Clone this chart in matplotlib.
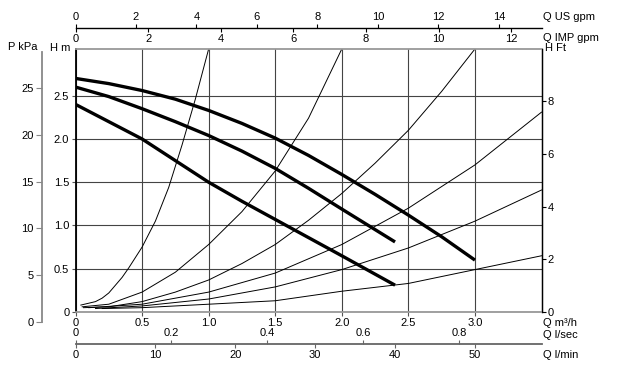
import matplotlib
matplotlib.use("Agg")
import matplotlib.pyplot as plt

plt.rcParams['font.family'] = ['Liberation Sans', 'DejaVu Sans']
plt.rcParams['font.size'] = 8

# pump curves, Q in m3/h, H in m
q_high = [0, 0.25, 0.5, 0.75, 1.0, 1.25, 1.5, 1.75, 2.0, 2.25, 2.5, 2.75, 3.0]
h_high = [2.70, 2.64, 2.56, 2.46, 2.33, 2.18, 2.01, 1.81, 1.59, 1.36, 1.12, 0.87, 0.60]
q_mid = [0, 0.25, 0.5, 0.75, 1.0, 1.25, 1.5, 1.75, 2.0, 2.2, 2.4]
h_mid = [2.60, 2.49, 2.35, 2.20, 2.04, 1.86, 1.66, 1.43, 1.19, 1.00, 0.81]
q_low = [0, 0.25, 0.5, 0.75, 1.0, 1.25, 1.5, 1.75, 2.0, 2.2, 2.4]
h_low = [2.40, 2.20, 2.00, 1.75, 1.50, 1.28, 1.07, 0.86, 0.65, 0.48, 0.31]

# system curves
sys_q = [
    [0.04, 0.15, 0.2, 0.25, 0.3, 0.35, 0.4, 0.5, 0.6, 0.7, 0.8, 0.9, 1.0],
    [0.05, 0.25, 0.5, 0.75, 1.0, 1.25, 1.5, 1.75, 2.0],
    [0.06, 0.25, 0.5, 0.75, 1.0, 1.25, 1.5, 1.75, 2.0, 2.25, 2.5, 2.75, 3.0],
    [0.1, 0.5, 1.0, 1.5, 2.0, 2.5, 3.0, 3.5],
    [0.15, 0.5, 1.0, 1.5, 2.0, 2.5, 3.0, 3.5],
    [0.2, 0.5, 1.0, 1.5, 2.0, 2.5, 3.0, 3.5],
]
sys_h = [
    [0.08, 0.12, 0.16, 0.22, 0.31, 0.40, 0.51, 0.75, 1.05, 1.44, 1.93, 2.46, 3.04],
    [0.06, 0.09, 0.23, 0.46, 0.78, 1.16, 1.63, 2.24, 3.04],
    [0.05, 0.06, 0.12, 0.23, 0.37, 0.56, 0.78, 1.06, 1.37, 1.72, 2.10, 2.55, 3.04],
    [0.05, 0.09, 0.23, 0.45, 0.78, 1.20, 1.70, 2.31],
    [0.04, 0.07, 0.15, 0.29, 0.49, 0.74, 1.05, 1.41],
    [0.04, 0.05, 0.09, 0.13, 0.24, 0.33, 0.49, 0.65],
]

q_ticks = [0, 0.5, 1.0, 1.5, 2.0, 2.5, 3.0]
q_labels = ['0', '0.5', '1.0', '1.5', '2.0', '2.5', '3.0']
hm_ticks = [0, 0.5, 1.0, 1.5, 2.0, 2.5]
hm_labels = ['0', '0.5', '1.0', '1.5', '2.0', '2.5']
ft_ticks = [0, 2, 4, 6, 8]
kpa_ticks = [0, 5, 10, 15, 20, 25]
us_ticks = [0, 2, 4, 6, 8, 10, 12, 14]
imp_ticks = [0, 2, 4, 6, 8, 10, 12]
ls_ticks = [0, 0.2, 0.4, 0.6, 0.8]
ls_labels = ['0', '0.2', '0.4', '0.6', '0.8']
lmin_ticks = [0, 10, 20, 30, 40, 50]

QMAX, HMAX = 3.5, 3.04
W, H = 630, 368


def rect(x0, y0, x1, y1):
    return [x0 / W, 1 - y1 / H, (x1 - x0) / W, (y1 - y0) / H]


def hide(a, sides):
    for s in sides:
        a.spines[s].set_visible(False)


fig = plt.figure(figsize=(6.3, 3.68), dpi=100)
grid_c = '#444444'

ax = fig.add_axes(rect(75.5, 49, 541.5, 312))
ax.set_xlim(0, QMAX)
ax.set_ylim(0, HMAX)
ax.set_xticks(q_ticks)
ax.set_xticklabels(q_labels)
ax.set_yticks(hm_ticks)
ax.set_yticklabels(hm_labels)
ax.grid(True, color=grid_c, lw=0.8)
ax.tick_params(length=3, width=0.8, pad=1.5, color='#555555')
ax.spines['left'].set_linewidth(1.3)
ax.spines['right'].set_linewidth(1.0)
for s in ['top', 'bottom']:
    ax.spines[s].set_color('#999999')
    ax.spines[s].set_linewidth(1.3)

for qs, hs in zip(sys_q, sys_h):
    ax.plot(qs, hs, color='black', lw=0.7)
for qs, hs in [(q_high, h_high), (q_mid, h_mid), (q_low, h_low)]:
    ax.plot(qs, hs, color='black', lw=2.4, solid_capstyle='butt',
            solid_joinstyle='round')

# right axis in feet
axr = ax.twinx()
axr.set_ylim(0, HMAX / 0.3048)
axr.set_yticks(ft_ticks)
axr.tick_params(length=3, width=0.8, pad=1.5)
hide(axr, ['top', 'bottom', 'left'])

# pressure axis on the far left
axp = fig.add_axes(rect(42, 52, 43, 321.7))
axp.set_ylim(0, 28.9)
axp.set_yticks(kpa_ticks)
axp.set_xticks([])
axp.patch.set_visible(False)
hide(axp, ['top', 'bottom', 'right'])
axp.spines['left'].set_color('#888888')
axp.spines['left'].set_linewidth(1.3)
axp.tick_params(axis='y', length=4, width=0.8, color='#888888', pad=2)

# top flow scales: US gpm above the line, IMP gpm below
axt = fig.add_axes(rect(75.5, 28, 541.5, 28.2))
axi = axt.twiny()
axt.set_xlim(0, QMAX / 0.22712)
axt.set_xticks(us_ticks)
axt.set_yticks([])
axt.patch.set_visible(False)
hide(axt, ['left', 'right', 'top'])
axt.spines['bottom'].set_linewidth(1.0)
axt.tick_params(axis='x', bottom=False, labelbottom=False, top=True, labeltop=True,
                length=3, width=0.8, pad=1)
axi.set_xlim(0, QMAX / 0.27277)
axi.set_xticks(imp_ticks)
hide(axi, ['left', 'right', 'top', 'bottom'])
axi.tick_params(axis='x', bottom=True, labelbottom=True, top=False, labeltop=False,
                length=3, width=0.8, pad=1)

# bottom flow scales: l/sec above the line, l/min below
axb = fig.add_axes(rect(75.5, 344, 541.5, 344.2))
axm = axb.twiny()
axb.set_xlim(0, QMAX / 3.6)
axb.set_xticks(ls_ticks)
axb.set_xticklabels(ls_labels)
axb.set_yticks([])
axb.patch.set_visible(False)
hide(axb, ['left', 'right', 'top'])
axb.spines['bottom'].set_color('#666666')
axb.spines['bottom'].set_linewidth(1.3)
axb.tick_params(axis='x', bottom=False, labelbottom=False, top=True, labeltop=True,
                length=3, width=0.8, pad=1, color='#666666')
axm.set_xlim(0, QMAX / 0.06)
axm.set_xticks(lmin_ticks)
hide(axm, ['left', 'right', 'top', 'bottom'])
axm.tick_params(axis='x', bottom=True, labelbottom=True, top=False, labeltop=False,
                length=3, width=0.8, pad=1, color='#666666')


# axis titles
def label(x, y, s):
    fig.text(x / W, 1 - y / H, s, ha='left', va='center')


label(543, 17, 'Q US gpm')
label(543, 38, 'Q IMP gpm')
label(545, 48, 'H Ft')
label(8, 47, 'P kPa')
label(50, 48, 'H m')
label(543, 323, 'Q m³/h')
label(543, 335, 'Q l/sec')
label(543, 355, 'Q l/min')

fig.savefig('out.png', dpi=100)
